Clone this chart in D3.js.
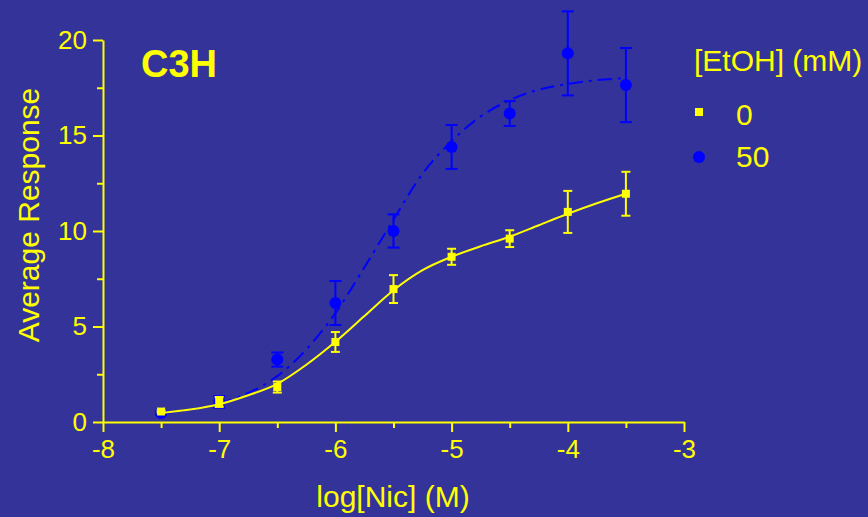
<!DOCTYPE html>
<html>
<head>
<meta charset="utf-8">
<script src="https://cdn.jsdelivr.net/npm/d3@7"></script>
<style>
  body { margin: 0; background: #333399; }
  svg { display: block; font-family: Arial, "Liberation Sans", sans-serif; }
</style>
</head>
<body>
<svg id="chart"></svg>
<script>
const width = 868;
const height = 517;

// log[Nic] (M)
const logNic = [-7.5, -7, -6.5, -6, -5.5, -5, -4.5, -4, -3.5];
// [EtOH] = 0 mM
const mean0 = [0.55, 1.05, 1.83, 4.19, 6.96, 8.65, 9.6, 11.0, 11.95];
const sem0 = [0.05, 0.26, 0.29, 0.52, 0.73, 0.42, 0.44, 1.1, 1.15];
// [EtOH] = 50 mM
const mean50 = [0.47, 1.05, 3.27, 6.23, 10.0, 14.4, 16.15, 19.3, 17.64];
const sem50 = [0.1, 0.3, 0.37, 1.15, 0.87, 1.15, 0.65, 2.2, 1.94];

// fitted curves
const fitX = [-7.5, -7.25, -7, -6.75, -6.5, -6.25, -6, -5.75, -5.5, -5.25, -5, -4.75, -4.5, -4.25, -4, -3.75, -3.5];
const fit0 = [0.47, 0.65, 0.93, 1.4, 2.0, 3.0, 4.2, 5.55, 6.9, 7.95, 8.65, 9.2, 9.7, 10.3, 10.9, 11.45, 11.95];
const fit50 = [0.45, 0.64, 0.97, 1.52, 2.4, 3.8, 5.7, 8.1, 10.6, 13.0, 14.7, 16.0, 16.85, 17.4, 17.7, 17.9, 18.0];

const xTicks = [-8, -7, -6, -5, -4, -3];
const yTicks = [0, 5, 10, 15, 20];

const yellow = '#ffff00';
const blue = '#0000ff';

const svg = d3.select('#chart')
    .attr('width', width)
    .attr('height', height)
    .style('background', '#333399');

const x = d3.scaleLinear().domain([-8, -3]).range([103, 684]);
const y = d3.scaleLinear().domain([0, 20]).range([422, 40]);

// axes
function styleAxis(g) {
    g.selectAll('path, line').attr('stroke', yellow).attr('stroke-width', 2);
    g.selectAll('text').attr('fill', yellow).style('font-size', '26px');
}

svg.append('g')
    .attr('transform', 'translate(0,422)')
    .call(d3.axisBottom(x).tickValues(d3.range(-7.5, -3, 1)).tickSize(6).tickFormat(''))
    .call(g => g.select('.domain').remove())
    .call(styleAxis);

svg.append('g')
    .attr('transform', 'translate(0,422)')
    .call(d3.axisBottom(x).tickValues(xTicks).tickSize(10).tickSizeOuter(0).tickPadding(8)
        .tickFormat(d => String(d).replace('−', '-')))
    .call(styleAxis);

svg.append('g')
    .attr('transform', 'translate(103,0)')
    .call(d3.axisLeft(y).tickValues(d3.range(2.5, 20, 5)).tickSize(6).tickFormat(''))
    .call(g => g.select('.domain').remove())
    .call(styleAxis);

svg.append('g')
    .attr('transform', 'translate(103,0)')
    .call(d3.axisLeft(y).tickValues(yTicks).tickSize(10).tickSizeOuter(0).tickPadding(6))
    .call(styleAxis);

// axis titles
svg.append('text')
    .attr('x', 393).attr('y', 507)
    .attr('text-anchor', 'middle')
    .attr('fill', yellow)
    .style('font-size', '30px')
    .text('log[Nic] (M)');

svg.append('text')
    .attr('transform', 'translate(39,215) rotate(-90)')
    .attr('text-anchor', 'middle')
    .attr('fill', yellow)
    .style('font-size', '30px')
    .text('Average Response');

svg.append('text')
    .attr('x', 141).attr('y', 77)
    .attr('fill', yellow)
    .style('font-size', '38px')
    .style('font-weight', 'bold')
    .text('C3H');

// series
const line = d3.line().x(d => x(d[0])).y(d => y(d[1])).curve(d3.curveMonotoneX);

function drawSeries(means, sems, fit, color, dash, capHalf, shape) {
    const g = svg.append('g');
    g.append('path')
        .datum(fitX.map((v, i) => [v, fit[i]]))
        .attr('d', line)
        .attr('fill', 'none')
        .attr('stroke', color)
        .attr('stroke-width', 2)
        .attr('stroke-dasharray', dash);

    const pts = logNic.map((v, i) => ({ x: v, m: means[i], s: sems[i] }));
    const eb = g.selectAll('g.eb').data(pts).join('g').attr('class', 'eb')
        .attr('stroke', color).attr('stroke-width', 2);
    eb.append('line')
        .attr('x1', d => x(d.x)).attr('x2', d => x(d.x))
        .attr('y1', d => y(d.m - d.s)).attr('y2', d => y(d.m + d.s));
    eb.append('line')
        .attr('x1', d => x(d.x) - capHalf).attr('x2', d => x(d.x) + capHalf)
        .attr('y1', d => y(d.m + d.s)).attr('y2', d => y(d.m + d.s));
    eb.append('line')
        .attr('x1', d => x(d.x) - capHalf).attr('x2', d => x(d.x) + capHalf)
        .attr('y1', d => y(d.m - d.s)).attr('y2', d => y(d.m - d.s));

    if (shape === 'circle') {
        g.selectAll('circle').data(pts).join('circle')
            .attr('cx', d => x(d.x)).attr('cy', d => y(d.m)).attr('r', 6)
            .attr('fill', color);
    } else {
        g.selectAll('rect').data(pts).join('rect')
            .attr('x', d => x(d.x) - 4).attr('y', d => y(d.m) - 4)
            .attr('width', 8).attr('height', 8)
            .attr('fill', color);
    }
}

drawSeries(mean50, sem50, fit50, blue, '14,6,3,6', 6, 'circle');
drawSeries(mean0, sem0, fit0, yellow, null, 4.5, 'square');

// legend
svg.append('text')
    .attr('x', 694).attr('y', 71)
    .attr('fill', yellow)
    .style('font-size', '30px')
    .text('[EtOH] (mM)');

svg.append('rect')
    .attr('x', 695).attr('y', 108).attr('width', 8).attr('height', 8)
    .attr('fill', yellow);
svg.append('text')
    .attr('x', 736).attr('y', 125)
    .attr('fill', yellow)
    .style('font-size', '30px')
    .text('0');

svg.append('circle')
    .attr('cx', 699).attr('cy', 157).attr('r', 6)
    .attr('fill', blue);
svg.append('text')
    .attr('x', 736).attr('y', 167)
    .attr('fill', yellow)
    .style('font-size', '30px')
    .text('50');
</script>
</body>
</html>
